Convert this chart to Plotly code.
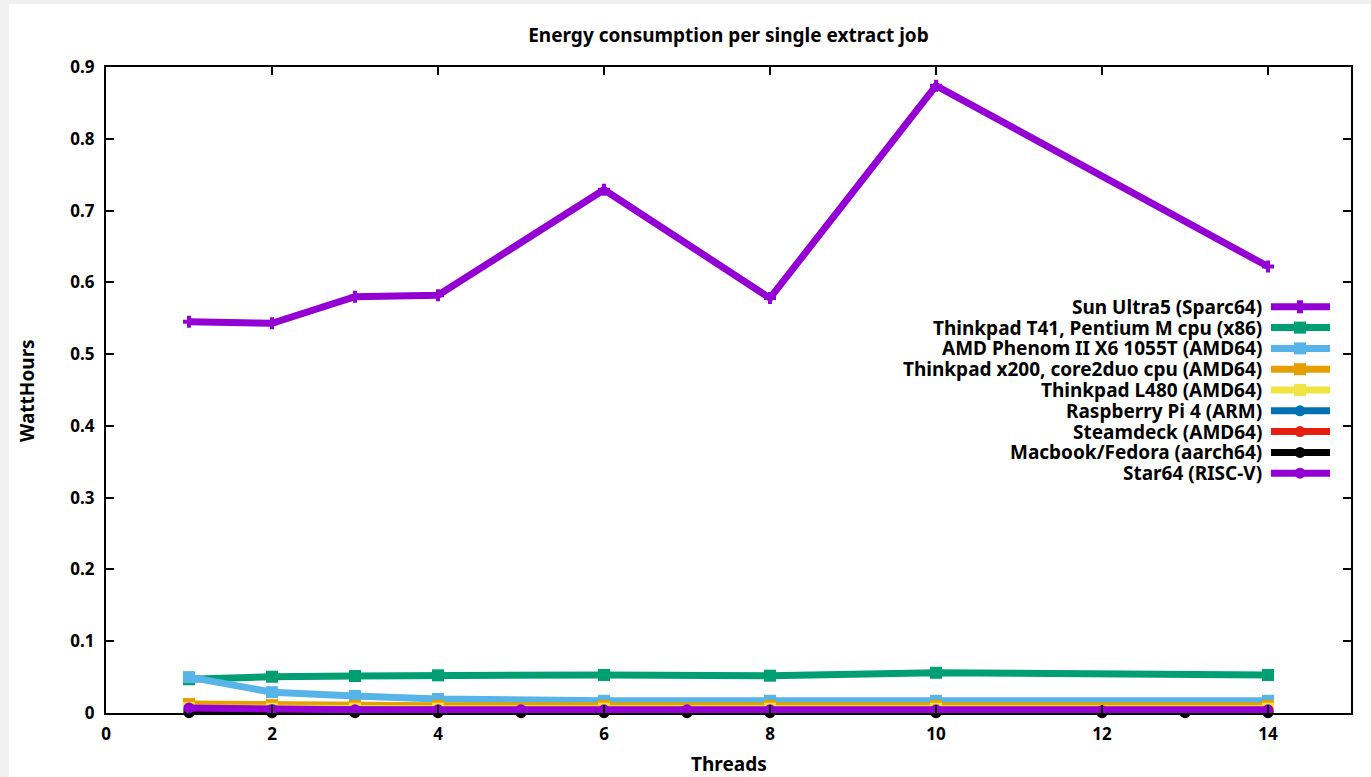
import plotly.graph_objects as go

# ---------------- data ----------------
threads_main = [1, 2, 3, 4, 6, 8, 10, 14]
sun_ultra5 = [0.545, 0.543, 0.580, 0.582, 0.729, 0.578, 0.874, 0.622]
thinkpad_t41 = [0.047, 0.0505, 0.0515, 0.0525, 0.053, 0.052, 0.056, 0.053]
amd_phenom = [0.050, 0.029, 0.0237, 0.0195, 0.017, 0.017, 0.017, 0.017]
thinkpad_x200 = [0.0125, 0.011, 0.010, 0.010, 0.010, 0.010, 0.010, 0.010]
thinkpad_l480 = [0.007, 0.006, 0.006, 0.006, 0.006, 0.006, 0.006, 0.006]
threads_rpi = [1, 2, 3, 4]
raspberry_pi4 = [0.005, 0.004, 0.004, 0.004]
threads_steamdeck = [1, 2, 4, 6, 8, 10, 12, 14]
steamdeck = [0.003, 0.003, 0.003, 0.003, 0.003, 0.003, 0.003, 0.003]
threads_macbook = [1, 2, 3, 4, 5, 6, 7, 8, 10, 12, 13, 14]
macbook_fedora = [0.0005, 0.0005, 0.0005, 0.0005, 0.0005, 0.0005, 0.0005,
                  0.0005, 0.0005, 0.0005, 0.0005, 0.0005]
threads_star64 = [1, 2, 3, 4, 5, 6, 7, 8, 10, 14]
star64 = [0.007, 0.005, 0.0045, 0.0045, 0.0045, 0.0045, 0.0045, 0.0045, 0.0045, 0.0045]

series_names = [
    "Sun Ultra5 (Sparc64)",
    "Thinkpad T41, Pentium M cpu (x86)",
    "AMD Phenom II X6 1055T (AMD64)",
    "Thinkpad x200, core2duo cpu (AMD64)",
    "Thinkpad L480 (AMD64)",
    "Raspberry Pi 4 (ARM)",
    "Steamdeck (AMD64)",
    "Macbook/Fedora (aarch64)",
    "Star64 (RISC-V)",
]
series_x = [threads_main, threads_main, threads_main, threads_main, threads_main,
            threads_rpi, threads_steamdeck, threads_macbook, threads_star64]
series_y = [sun_ultra5, thinkpad_t41, amd_phenom, thinkpad_x200, thinkpad_l480,
            raspberry_pi4, steamdeck, macbook_fedora, star64]
colors = ["#9400d3", "#009e73", "#56b4e9", "#e69f00", "#f0e442",
          "#0072b2", "#e51e10", "#000000", "#9400d3"]
symbols = ["cross", "square", "square", "square", "square",
           "circle", "circle", "circle", "circle"]
marker_sizes = {"cross": 10, "square": 12, "circle": 11}

x_ticks = [0, 2, 4, 6, 8, 10, 12, 14]
y_ticks = [0, 0.1, 0.2, 0.3, 0.4, 0.5, 0.6, 0.7, 0.8, 0.9]

# ---------------- layout geometry (pixels) ----------------
W, H = 1371, 777
L, R, T, B = 106, 20, 67, 64
PW, PH = W - L - R, H - T - B

def px_x(p):
    return (p - L) / PW

def px_y(p):
    return (H - B - p) / PH

FONT = "Noto Sans"
TXT = 19
TICK = 17

fig = go.Figure()
for name, xs, ys, c, s in zip(series_names, series_x, series_y, colors, symbols):
    fig.add_trace(go.Scatter(
        x=xs, y=ys, name=name, mode="lines+markers",
        line=dict(color=c, width=7),
        marker=dict(color=c, symbol=s, size=marker_sizes[s], line=dict(width=0)),
        showlegend=False, cliponaxis=False,
    ))

shapes = []
annotations = []
# page background (light gray strip at left/top)
shapes.append(dict(type="rect", xref="paper", yref="paper", layer="below",
                   x0=px_x(9), x1=px_x(W + 5), y0=px_y(H + 5), y1=px_y(4),
                   fillcolor="white", line=dict(width=0)))

# custom legend: text right-aligned, sample to the right
row0, step = 306.8, 20.8
for i, (name, c, s) in enumerate(zip(series_names, colors, symbols)):
    py = row0 + i * step
    yp = px_y(py)
    annotations.append(dict(text=name, xref="paper", yref="paper",
                            x=px_x(1263), y=yp, xanchor="right", yanchor="middle",
                            showarrow=False, borderpad=0,
                            font=dict(family=FONT, size=TXT, color="black", weight="bold")))
    shapes.append(dict(type="line", xref="paper", yref="paper",
                       x0=px_x(1271), x1=px_x(1330), y0=yp, y1=yp,
                       line=dict(color=c, width=7)))
    xm = px_x(1300)
    if s == "square":
        shapes.append(dict(type="rect", xref="paper", yref="paper",
                           xsizemode="pixel", ysizemode="pixel", xanchor=xm, yanchor=yp,
                           x0=-6, x1=6, y0=-6, y1=6, fillcolor=c, line=dict(width=0)))
    elif s == "circle":
        shapes.append(dict(type="circle", xref="paper", yref="paper",
                           xsizemode="pixel", ysizemode="pixel", xanchor=xm, yanchor=yp,
                           x0=-5.5, x1=5.5, y0=-5.5, y1=5.5, fillcolor=c, line=dict(width=0)))
    else:
        shapes.append(dict(type="rect", xref="paper", yref="paper",
                           xsizemode="pixel", ysizemode="pixel", xanchor=xm, yanchor=yp,
                           x0=-3, x1=3, y0=-6.5, y1=6.5, fillcolor=c, line=dict(width=0)))

# axis titles
annotations.append(dict(text="WattHours", xref="paper", yref="paper",
                        x=px_x(27), y=0.5, textangle=-90, showarrow=False,
                        xanchor="center", yanchor="middle",
                        font=dict(family=FONT, size=TXT, color="black", weight="bold")))
annotations.append(dict(text="Threads", xref="paper", yref="paper",
                        x=0.5, y=px_y(764), showarrow=False,
                        xanchor="center", yanchor="middle",
                        font=dict(family=FONT, size=TXT, color="black", weight="bold")))

axis_common = dict(
    showline=True, linecolor="black", linewidth=2, mirror="ticks",
    ticks="inside", ticklen=8, tickwidth=2, tickcolor="black",
    showgrid=False, zeroline=False,
    tickfont=dict(family=FONT, size=TICK, color="black", weight="bold"),
)

fig.update_layout(
    width=W, height=H,
    margin=dict(l=L, r=R, t=T, b=B),
    paper_bgcolor="#f0f0f0", plot_bgcolor="white",
    title=dict(text="Energy consumption per single extract job",
               x=(L + PW / 2) / W, xanchor="center",
               y=1 - 35 / H, yanchor="middle",
               font=dict(family=FONT, size=TXT, color="black", weight="bold")),
    xaxis=dict(range=[0, 15], tickvals=x_ticks, ticktext=[str(v) for v in x_ticks],
               ticklabelstandoff=5, **axis_common),
    yaxis=dict(range=[0, 0.9], tickvals=y_ticks,
               ticktext=["0"] + [f"{v:.1f}" for v in y_ticks[1:]],
               ticklabelstandoff=6, **axis_common),
    shapes=shapes, annotations=annotations,
    showlegend=False,
)

fig.write_html("out.html")
